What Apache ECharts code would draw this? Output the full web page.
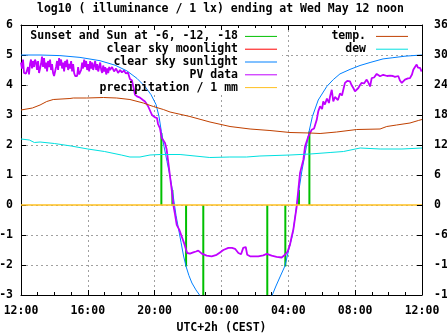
<!DOCTYPE html>
<html><head><meta charset="utf-8">
<script src="https://cdn.jsdelivr.net/npm/echarts@6/dist/echarts.min.js"></script>
<style>html,body{margin:0;padding:0;background:#fff}#c{width:447px;height:335px}</style>
</head><body><div id="c"></div>
<script>
// ---------- data (x in hours since 00:00 of the first day; 24 = midnight) ----------
const titleText = 'log10 ( illuminance / 1 lx) ending at Wed May 12 noon';
const xAxisName = 'UTC+2h (CEST)';

const sunEventTimes  = [20.40, 21.06, 21.88, 22.91, 26.74, 27.82, 28.64, 29.26];
const sunEventValues = [2.4, 0.5, -2.05, -3.2, -3.2, -2.05, 0.5, 2.45];

const moonTimes = [];
const moonValues = [];

const sunTimes = [12.0,13.14,14.33,15.53,16.73,17.63,18.34,18.94,19.42,19.78,20.08,20.26,20.40,20.56,20.74,20.92,21.06,21.16,21.28,21.43,21.58,21.73,21.88,22.05,22.23,22.47,22.71,22.95,
  24.9,
  26.90,27.04,27.26,27.50,27.80,28.04,28.25,28.38,28.50,28.65,28.80,29.00,29.26,29.44,29.79,30.30,30.69,31.09,31.69,32.29,32.89,33.67,34.26,34.98,35.70,36.0];
const sunValues = [5.0,5.0,4.98,4.92,4.81,4.66,4.47,4.22,3.95,3.68,3.35,2.95,2.45,1.95,1.45,0.95,0.5,0.1,-0.35,-0.8,-1.25,-1.7,-2.05,-2.35,-2.6,-2.83,-3.02,-3.2,
  null,
  -3.2,-3.0,-2.7,-2.4,-2.03,-1.45,-1.0,-0.5,0.0,0.55,1.1,1.7,2.5,2.95,3.5,3.95,4.18,4.37,4.52,4.65,4.75,4.87,4.91,4.96,4.99,5.0];

const pvTimes = [
  12.00,12.06,12.12,12.18,12.24,12.30,12.36,12.42,12.48,12.54,12.60,12.66,12.72,12.78,12.84,12.90,12.96,13.02,13.08,13.14,
  13.20,13.26,13.32,13.38,13.44,13.50,13.56,13.62,13.68,13.74,13.80,13.86,13.92,13.98,14.04,14.10,14.16,14.22,14.28,14.34,
  14.40,14.46,14.52,14.58,14.64,14.70,14.76,14.82,14.88,14.94,15.00,15.06,15.12,15.18,15.24,15.30,15.36,15.42,15.48,15.54,
  15.60,15.66,15.72,15.78,15.84,15.90,15.96,16.02,16.08,16.14,16.20,16.26,16.32,16.38,16.44,16.50,16.56,16.62,16.68,16.74,
  16.80,16.86,16.92,16.98,17.04,17.10,17.16,17.22,17.28,
  17.33,17.45,17.57,17.69,17.81,17.93,18.04,18.16,18.28,18.40,18.52,18.64,18.76,18.82,18.94,19.12,19.30,19.42,19.60,19.72,
  19.84,20.02,20.14,20.20,20.32,20.42,20.62,20.72,20.82,20.92,21.02,21.12,21.22,21.32,21.47,21.62,21.76,21.88,21.95,22.11,
  22.31,22.47,22.61,22.82,23.11,23.41,23.71,23.91,24.11,24.41,24.63,24.81,25.01,25.17,25.30,25.45,25.54,25.71,26.20,26.50,
  26.71,27.00,27.30,27.60,27.80,27.96,28.10,28.20,28.30,28.40,28.50,28.60,28.70,28.90,29.00,29.20,29.40,29.54,29.70,29.79,
  29.90,30.02,30.09,30.19,30.31,30.43,30.49,30.60,30.69,30.79,30.89,30.97,31.09,31.21,31.29,31.39,31.53,31.69,31.78,31.89,
  31.99,32.08,32.19,32.29,32.39,32.53,32.69,32.77,32.89,32.99,33.13,33.29,33.37,33.49,33.68,33.91,34.09,34.26,34.38,34.58,
  34.68,34.79,34.86,34.98,35.16,35.28,35.40,35.48,35.58,35.68,35.76,35.88,35.98];
const pvValues = [
  4.75,4.55,4.85,4.4,4.35,4.38,4.35,4.6,4.35,4.7,4.85,4.55,4.8,4.6,4.85,4.75,4.5,4.8,4.4,4.35,
  4.7,4.95,4.6,4.9,4.55,4.75,4.45,4.8,4.6,4.85,4.5,4.7,4.4,4.3,4.35,4.6,4.8,4.5,4.9,4.65,
  4.85,4.55,4.75,4.45,4.8,4.6,4.85,4.5,4.7,4.55,4.8,4.45,4.7,4.4,4.3,4.35,4.3,4.6,4.35,4.3,
  4.5,4.75,4.55,4.85,4.6,4.8,4.5,4.7,4.45,4.8,4.55,4.75,4.5,4.65,4.8,4.5,4.7,4.45,4.6,4.75,
  4.5,4.4,4.65,4.45,4.6,4.35,4.55,4.4,4.6,
  4.5,4.6,4.45,4.55,4.4,4.5,4.42,4.48,4.38,4.42,4.2,4.15,3.85,3.68,3.62,3.58,3.5,3.45,3.3,3.15,
  3.0,2.92,2.9,2.7,2.55,2.24,2.07,1.84,1.4,0.95,0.51,0.0,-0.32,-0.66,-0.82,-1.05,-1.27,-1.49,-1.6,-1.62,
  -1.58,-1.55,-1.52,-1.62,-1.69,-1.71,-1.66,-1.58,-1.5,-1.43,-1.43,-1.46,-1.6,-1.64,-1.43,-1.4,-1.66,-1.71,-1.71,-1.68,
  -1.63,-1.69,-1.73,-1.75,-1.66,-1.55,-1.32,-1.05,-0.82,-0.43,-0.05,0.51,1.07,1.51,1.95,2.29,2.51,2.55,2.84,3.12,
  3.29,3.2,3.45,3.35,3.55,3.4,3.6,3.84,3.45,3.6,3.62,3.5,3.72,3.65,3.84,4.07,4.14,4.12,4.0,3.9,
  3.79,3.85,3.9,4.0,4.07,4.05,4.18,4.1,3.95,4.23,4.25,4.37,4.32,4.29,4.34,4.3,4.31,4.3,4.27,4.3,
  4.15,4.07,4.12,4.18,4.22,4.23,4.35,4.51,4.6,4.68,4.58,4.57,4.45];

const precipTimes = [12.0, 36.0];
const precipValues = [0, 0];

const tempTimes  = [12.0,12.68,13.14,13.54,13.93,14.93,15.13,15.93,16.93,17.73,18.52,19.32,19.92,20.52,20.92,22.11,23.31,24.51,25.71,26.90,28.10,29.30,29.90,30.89,32.09,33.49,33.89,34.48,35.28,35.78,36.0];
const tempValues = [19.0,19.4,20.0,20.7,21.1,21.3,21.4,21.4,21.5,21.4,21.1,20.4,19.7,19.1,18.6,17.7,16.6,15.7,15.2,14.9,14.5,14.4,14.3,14.6,15.1,15.2,15.7,16.0,16.4,16.9,17.1];

const dewTimes  = [12.0,12.5,12.8,13.14,14.0,15.0,16.0,17.0,18.0,18.52,19.12,19.72,20.32,21.52,23.3,24.5,25.5,26.3,28.1,29.3,30.5,31.3,32.3,33.5,34.8,36.0];
const dewValues = [13.2,13.0,12.5,12.6,12.3,11.8,11.2,10.7,10.0,9.6,9.6,10.0,10.1,10.1,9.5,9.6,9.6,9.8,10.0,10.2,10.5,10.7,11.4,11.2,11.2,11.4];

const xMin = 12, xMax = 36, xStep = 4;
const yMin = -3, yMax = 6, yStep = 1;
const y2Min = -18, y2Max = 36, y2Step = 6;

const leftKeyNames = ['Sunset and Sun at -6, -12, -18', 'clear sky moonlight', 'clear sky sunlight', 'PV data', 'precipitation / 1 mm'];
const rightKeyNames = ['temp.', 'dew'];

// ---------- helpers ----------
function pairs(t, v) { return t.map((x, i) => [x, v[i]]); }
const FONT = '"DejaVu Sans Mono", "Liberation Mono", monospace';
const txt = { fontFamily: FONT, fontSize: 11.5, fontWeight: 'bold', color: '#000' };
const grid = { color: '#a0a0a0', width: 1, type: [2, 3] };
function hh(v) { const h = ((v % 24) + 24) % 24; return (h < 10 ? '0' : '') + h + ':00'; }

const legendBase = {
  orient: 'vertical', align: 'right', top: 30, itemWidth: 32, itemHeight: 1, itemGap: 0,
  padding: 0, icon: 'rect', selectedMode: false, itemStyle: { borderWidth: 0 }
};

const option = {
  animation: false,
  backgroundColor: '#fff',
  title: { text: titleText, left: 37, top: 3, padding: 0, textStyle: txt },
  grid: { left: 21, right: 25, top: 25, bottom: 40, containLabel: false, outerBoundsMode: 'none' },
  legend: [
    Object.assign({}, legendBase, { data: leftKeyNames, right: 170,
      textStyle: Object.assign({}, txt, { lineHeight: 12.8, padding: [0, 2, 0, 0] }) }),
    Object.assign({}, legendBase, { data: rightKeyNames, right: 39,
      textStyle: Object.assign({}, txt, { lineHeight: 12.8, padding: [0, 5, 0, 0] }) })
  ],
  graphic: [
    { type: 'rect', silent: true, z: 1, shape: { x: 30, y: 26, width: 252, height: 66 }, style: { fill: '#fff' } },
    { type: 'rect', silent: true, z: 1, shape: { x: 300, y: 26, width: 120, height: 28 }, style: { fill: '#fff' } }
  ],
  xAxis: [
    {
      type: 'value', min: xMin, max: xMax, interval: xStep, position: 'bottom',
      axisLine: { show: true, onZero: false, lineStyle: { color: '#000', width: 1 } },
      axisTick: { show: true, inside: true, length: 5, lineStyle: { color: '#000' } },
      minorTick: { show: true, splitNumber: 4, length: 3, lineStyle: { color: '#000' } },
      axisLabel: Object.assign({ margin: 10, formatter: hh, hideOverlap: false }, txt),
      splitLine: { show: true, showMinLine: false, showMaxLine: false, lineStyle: grid },
      name: xAxisName, nameLocation: 'middle', nameGap: 26, nameTextStyle: txt
    },
    {
      type: 'value', min: xMin, max: xMax, interval: xStep, position: 'top', z: 5,
      axisLine: { show: true, onZero: false, lineStyle: { color: '#000', width: 1 } },
      axisTick: { show: true, inside: true, length: 5, lineStyle: { color: '#000' } },
      minorTick: { show: true, splitNumber: 4, length: 3, lineStyle: { color: '#000' } },
      axisLabel: { show: false }, splitLine: { show: false }
    }
  ],
  yAxis: [
    {
      type: 'value', min: yMin, max: yMax, interval: yStep, position: 'left',
      axisLine: { show: true, onZero: false, lineStyle: { color: '#000', width: 1 } },
      axisTick: { show: true, inside: true, length: 5, lineStyle: { color: '#000' } },
      axisLabel: Object.assign({ margin: 8, hideOverlap: false }, txt),
      splitLine: { show: true, showMinLine: false, showMaxLine: false, lineStyle: grid }
    },
    {
      type: 'value', min: y2Min, max: y2Max, interval: y2Step, position: 'right', z: 5,
      axisLine: { show: true, onZero: false, lineStyle: { color: '#000', width: 1 } },
      axisTick: { show: true, inside: true, length: 5, lineStyle: { color: '#000' } },
      axisLabel: Object.assign({ margin: 12, hideOverlap: false }, txt),
      splitLine: { show: false }
    }
  ],
  series: [
    { name: leftKeyNames[0], type: 'bar', xAxisIndex: 0, yAxisIndex: 0, barWidth: 2, color: '#00c000',
      itemStyle: { color: '#00c000' }, data: pairs(sunEventTimes, sunEventValues) },
    { name: leftKeyNames[1], type: 'line', yAxisIndex: 0, color: '#ff0000', showSymbol: false, symbol: 'none',
      lineStyle: { color: '#ff0000', width: 1 }, data: pairs(moonTimes, moonValues) },
    { name: leftKeyNames[2], type: 'line', yAxisIndex: 0, color: '#0080ff', showSymbol: false, symbol: 'none',
      lineStyle: { color: '#0080ff', width: 1 }, data: pairs(sunTimes, sunValues) },
    { name: leftKeyNames[3], type: 'line', yAxisIndex: 0, color: '#c000ff', showSymbol: false, symbol: 'none',
      lineStyle: { color: '#c000ff', width: 1.8 }, data: pairs(pvTimes, pvValues) },
    { name: leftKeyNames[4], type: 'line', yAxisIndex: 0, color: '#ffc020', showSymbol: false, symbol: 'none',
      lineStyle: { color: '#ffc020', width: 1.5 }, data: pairs(precipTimes, precipValues) },
    { name: rightKeyNames[0], type: 'line', yAxisIndex: 1, color: '#c04000', showSymbol: false, symbol: 'none',
      lineStyle: { color: '#c04000', width: 1 }, data: pairs(tempTimes, tempValues) },
    { name: rightKeyNames[1], type: 'line', yAxisIndex: 1, color: '#00e0e0', showSymbol: false, symbol: 'none',
      lineStyle: { color: '#00e0e0', width: 1 }, data: pairs(dewTimes, dewValues) }
  ]
};

const chart = echarts.init(document.getElementById('c'), null, { renderer: 'canvas' });
chart.setOption(option);
</script></body></html>
